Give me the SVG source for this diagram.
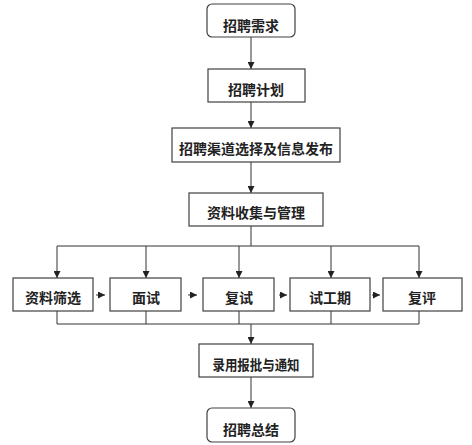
<svg xmlns="http://www.w3.org/2000/svg" width="472" height="445" viewBox="0 0 472 445">
<style>
.box{fill:#fff;stroke:#404040;stroke-width:1.2}
.t{font-family:"Noto Sans CJK SC","Noto Sans",sans-serif;font-size:14px;font-weight:bold;fill:#222;text-anchor:middle;dominant-baseline:central}
.c{fill:none;stroke:#333;stroke-width:1}
</style>
<defs>
<marker id="ah" viewBox="0 0 10 10" refX="10" refY="5" markerWidth="7" markerHeight="7" markerUnits="userSpaceOnUse" orient="auto">
<path d="M0,0 L10,5 L0,10 z" fill="#222"/>
</marker>
</defs>
<rect width="472" height="445" fill="#fff"/>
<g id="connectors">
<line class="c" x1="251" y1="37" x2="251" y2="69" marker-end="url(#ah)"/>
<line class="c" x1="251" y1="102" x2="251" y2="128" marker-end="url(#ah)"/>
<line class="c" x1="251" y1="162" x2="251" y2="193" marker-end="url(#ah)"/>
<polyline class="c" points="251,226 251,246"/>
<polyline class="c" points="57,246 419,246"/>
<line class="c" x1="57" y1="246" x2="57" y2="278" marker-end="url(#ah)"/>
<line class="c" x1="146" y1="246" x2="146" y2="278" marker-end="url(#ah)"/>
<line class="c" x1="239" y1="246" x2="239" y2="278" marker-end="url(#ah)"/>
<line class="c" x1="331" y1="246" x2="331" y2="278" marker-end="url(#ah)"/>
<line class="c" x1="419" y1="246" x2="419" y2="278" marker-end="url(#ah)"/>
<line class="c" x1="96" y1="295" x2="105" y2="295" marker-end="url(#ah)"/>
<line class="c" x1="188" y1="295" x2="197" y2="295" marker-end="url(#ah)"/>
<line class="c" x1="279" y1="295" x2="287" y2="295" marker-end="url(#ah)"/>
<line class="c" x1="372" y1="295" x2="380" y2="295" marker-end="url(#ah)"/>
<polyline class="c" points="57,311 57,324 419,324 419,311"/>
<line class="c" x1="146" y1="311" x2="146" y2="324"/>
<line class="c" x1="239" y1="311" x2="239" y2="324"/>
<line class="c" x1="331" y1="311" x2="331" y2="324"/>
<line class="c" x1="251" y1="324" x2="251" y2="344" marker-end="url(#ah)"/>
<line class="c" x1="251" y1="377" x2="251" y2="408" marker-end="url(#ah)"/>
</g>
<g id="n1"><rect class="box" x="207" y="4" width="88" height="33" rx="5"/><text class="t" x="251" y="25">招聘需求</text></g>
<g id="n2"><rect class="box" x="208" y="69" width="97" height="33"/><text class="t" x="256" y="89">招聘计划</text></g>
<g id="n3"><rect class="box" x="172" y="128" width="168" height="34"/><text class="t" x="256" y="148">招聘渠道选择及信息发布</text></g>
<g id="n4"><rect class="box" x="189" y="193" width="134" height="33"/><text class="t" x="256" y="212">资料收集与管理</text></g>
<g id="n5"><rect class="box" x="13" y="278" width="80" height="33"/><text class="t" x="53" y="297">资料筛选</text></g>
<g id="n6"><rect class="box" x="110" y="278" width="71" height="33"/><text class="t" x="146" y="297">面试</text></g>
<g id="n7"><rect class="box" x="203" y="278" width="71" height="33"/><text class="t" x="239" y="297">复试</text></g>
<g id="n8"><rect class="box" x="290" y="278" width="80" height="33"/><text class="t" x="330" y="297">试工期</text></g>
<g id="n9"><rect class="box" x="383" y="278" width="79" height="33"/><text class="t" x="422" y="297">复评</text></g>
<g id="n10"><rect class="box" x="199" y="344" width="114" height="33"/><text class="t" x="256" y="364" textLength="87" lengthAdjust="spacingAndGlyphs">录用报批与通知</text></g>
<g id="n11"><rect class="box" x="207" y="408" width="88" height="34" rx="5"/><text class="t" x="251" y="429">招聘总结</text></g>
</svg>
